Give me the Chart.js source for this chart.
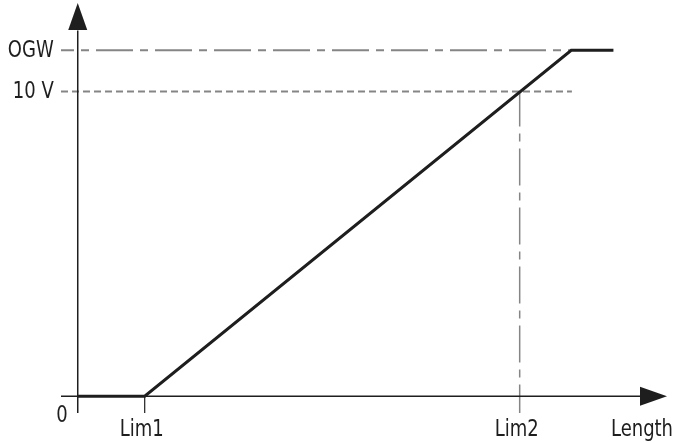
<!DOCTYPE html>
<html>
<head>
<meta charset="utf-8">
<script src="https://cdn.jsdelivr.net/npm/chart.js@4/dist/chart.umd.min.js"></script>
<style>
    html, body { margin: 0; padding: 0; background: #fff; }
    #wrap { width: 678px; height: 443px; }
</style>
</head>
<body>
<div id="wrap"><canvas id="chart" width="678" height="443"></canvas></div>
<script>
// x in length units, y in volts
const lim1 = 10;
const lim2 = 66;
const ogw = 11.35;
const tenV = 10;

const curveX = [0, lim1, 73.7, 80];
const curveY = [0, 0, ogw, ogw];

const refEndX = 73.8;
const axisStartX = -2.5;
const axisEndX = 88;
const tickBottomY = -0.55;

const yTickValues = [ogw, tenV];
const yTickLabels = ["OGW", "10 V"];
const xTickValues = [lim1, lim2];
const xTickLabels = ["Lim1", "Lim2"];
const xAxisName = "Length";

const FONT = "23px 'Liberation Sans Narrow', 'DejaVu Sans Condensed', sans-serif";
const SQUEEZE = 0.87;
const INK = "#1e1e1e";
const GREY = "#858585";

const pts = (xs, ys) => xs.map((x, i) => ({x: x, y: ys[i]}));

// narrow text, the reference uses a tall condensed face
function squeezedText(ctx, text, px, py) {
    ctx.save();
    ctx.translate(px, py);
    ctx.scale(SQUEEZE, 1);
    ctx.fillText(text, 0, 0);
    ctx.restore();
}

const arrowsAndLabels = {
    id: "arrowsAndLabels",
    afterDatasetsDraw(chart) {
        const {ctx, scales: {x, y}} = chart;
        const x0 = x.getPixelForValue(0);
        const y0 = y.getPixelForValue(0);
        ctx.save();
        ctx.fillStyle = INK;

        // y arrow
        const yTip = y.getPixelForValue(12.9);
        ctx.beginPath();
        ctx.moveTo(x0, yTip);
        ctx.lineTo(x0 - 9.5, yTip + 27);
        ctx.lineTo(x0 + 9.5, yTip + 27);
        ctx.closePath();
        ctx.fill();

        // x arrow
        const xTip = x.getPixelForValue(axisEndX);
        ctx.beginPath();
        ctx.moveTo(xTip, y0);
        ctx.lineTo(xTip - 27, y0 - 9.5);
        ctx.lineTo(xTip - 27, y0 + 9.5);
        ctx.closePath();
        ctx.fill();

        ctx.font = FONT;
        ctx.textBaseline = "middle";
        ctx.textAlign = "right";
        yTickValues.forEach((v, i) => {
            squeezedText(ctx, yTickLabels[i], x0 - 24, y.getPixelForValue(v) + 1);
        });
        squeezedText(ctx, "0", x0 - 10, y0 + 20);

        ctx.textAlign = "center";
        xTickValues.forEach((v, i) => {
            squeezedText(ctx, xTickLabels[i], x.getPixelForValue(v) - 3, y0 + 34);
        });
        squeezedText(ctx, xAxisName, xTip - 25, y0 + 34);
        ctx.restore();
    }
};

new Chart(document.getElementById("chart"), {
    type: "scatter",
    data: {
        datasets: [
            {
                label: "curve",
                data: pts(curveX, curveY),
                showLine: true,
                borderColor: INK,
                borderWidth: 3,
                pointRadius: 0,
                order: 0,
            },
            {
                label: "x axis",
                data: pts([axisStartX, axisEndX - 4], [0, 0]),
                showLine: true,
                borderColor: INK,
                borderWidth: 1.5,
                pointRadius: 0,
                order: 1,
            },
            {
                label: "y axis",
                data: pts([0, 0], [tickBottomY, 12]),
                showLine: true,
                borderColor: INK,
                borderWidth: 1.5,
                pointRadius: 0,
                order: 1,
            },
            {
                label: "lim1 tick",
                data: pts([lim1, lim1], [tickBottomY, 0]),
                showLine: true,
                borderColor: INK,
                borderWidth: 1.2,
                pointRadius: 0,
                order: 1,
            },
            {
                label: "OGW",
                data: pts([axisStartX, refEndX], [ogw, ogw]),
                showLine: true,
                borderColor: GREY,
                borderWidth: 2,
                borderDash: [37, 7, 8, 7],
                borderDashOffset: 24,
                pointRadius: 0,
                order: 2,
            },
            {
                label: "10 V",
                data: pts([axisStartX, refEndX], [tenV, tenV]),
                showLine: true,
                borderColor: GREY,
                borderWidth: 2,
                borderDash: [7, 4],
                pointRadius: 0,
                order: 2,
            },
            {
                label: "Lim2",
                data: pts([lim2, lim2], [tenV, tickBottomY]),
                showLine: true,
                borderColor: GREY,
                borderWidth: 1.5,
                borderDash: [37, 7, 8, 7],
                borderDashOffset: 2,
                pointRadius: 0,
                order: 2,
            },
        ],
    },
    options: {
        responsive: false,
        animation: false,
        clip: false,
        layout: {
            padding: {left: 61, right: 11, top: 3, bottom: 30},
        },
        scales: {
            x: {type: "linear", min: axisStartX, max: axisEndX, display: false},
            y: {type: "linear", min: tickBottomY, max: 12.9, display: false},
        },
        plugins: {
            legend: {display: false},
            tooltip: {enabled: false},
        },
    },
    plugins: [arrowsAndLabels],
});
</script>
</body>
</html>
